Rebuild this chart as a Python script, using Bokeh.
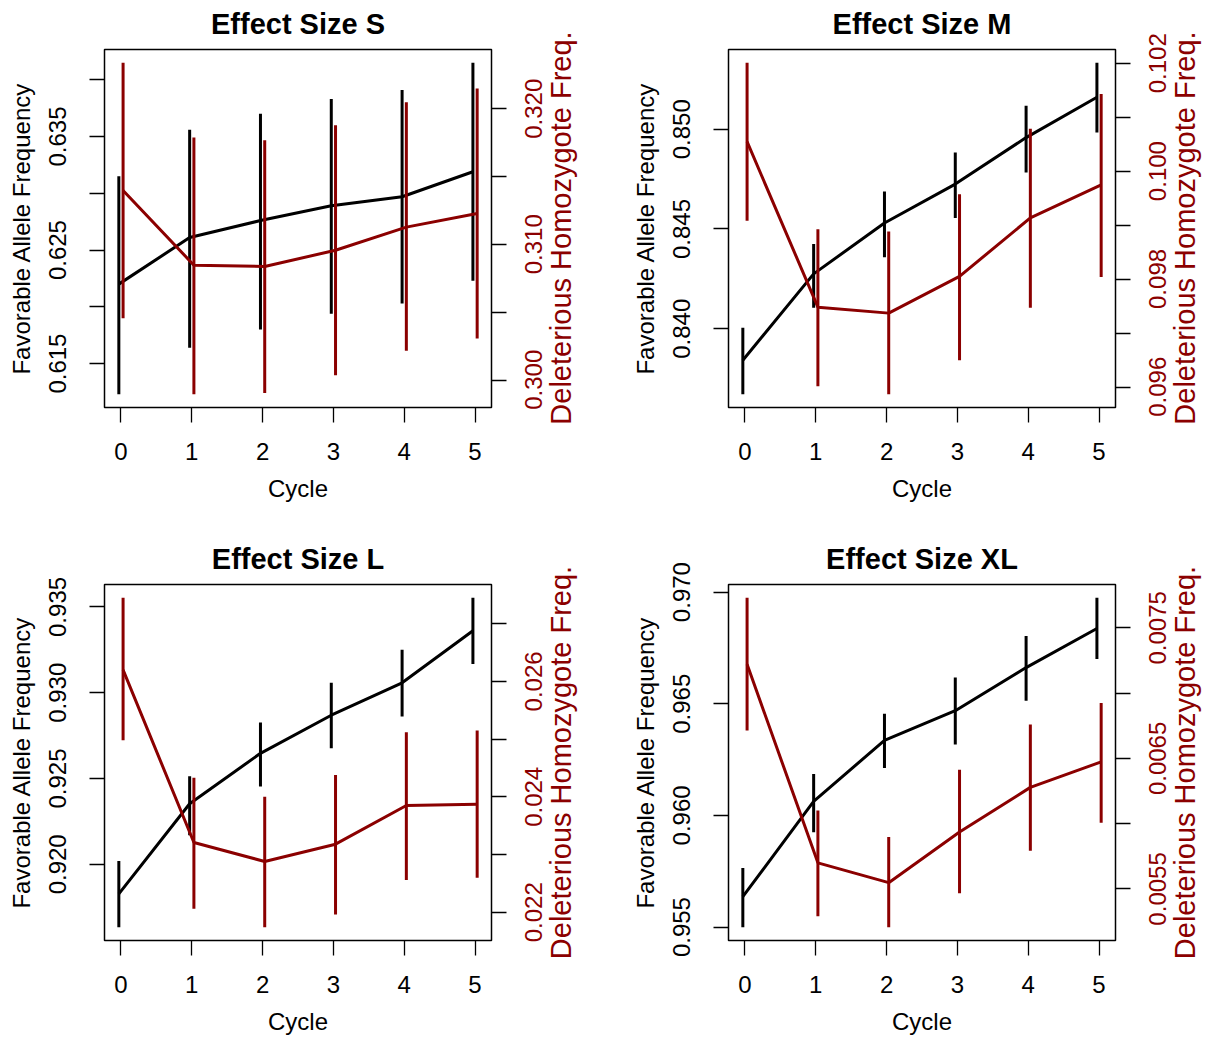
import math
from bokeh.plotting import figure
from bokeh.models import Range1d, LinearAxis, FixedTicker, Title
from bokeh.layouts import row, column
from bokeh.embed import file_html
from bokeh.resources import INLINE

FONT = "Liberation Sans"
RED = "#8B0000"

cycles = [0, 1, 2, 3, 4, 5]
x_labels = ["0", "1", "2", "3", "4", "5"]
BLACK_SHIFT = -0.03
RED_SHIFT = 0.03

# ---- Effect Size S ----
s_fav_mean = [0.6220, 0.6261, 0.6276, 0.6289, 0.6297, 0.6319]
s_fav_lo = [0.6123, 0.6164, 0.6180, 0.6194, 0.6203, 0.6223]
s_fav_hi = [0.6315, 0.6356, 0.6370, 0.6383, 0.6391, 0.6415]
s_del_mean = [0.3140, 0.3085, 0.3084, 0.3096, 0.3113, 0.3123]
s_del_lo = [0.3046, 0.2990, 0.2991, 0.3004, 0.3022, 0.3031]
s_del_hi = [0.3234, 0.3179, 0.3177, 0.3188, 0.3205, 0.3215]
s_left_ticks = [0.615, 0.620, 0.625, 0.630, 0.635, 0.640]
s_left_labels = ["0.615", "", "0.625", "", "0.635", ""]
s_right_ticks = [0.300, 0.305, 0.310, 0.315, 0.320]
s_right_labels = ["0.300", "", "0.310", "", "0.320"]

# ---- Effect Size M ----
m_fav_mean = [0.83842, 0.84275, 0.84530, 0.84725, 0.84958, 0.85160]
m_fav_lo = [0.83672, 0.84105, 0.84358, 0.84555, 0.84783, 0.84983]
m_fav_hi = [0.84005, 0.84425, 0.84688, 0.84883, 0.85117, 0.85333]
m_del_mean = [0.10055, 0.09749, 0.09738, 0.09806, 0.09914, 0.09975]
m_del_lo = [0.09909, 0.09603, 0.09588, 0.09651, 0.09748, 0.09805]
m_del_hi = [0.10201, 0.09893, 0.09889, 0.09958, 0.10079, 0.10143]
m_left_ticks = [0.840, 0.845, 0.850]
m_left_labels = ["0.840", "0.845", "0.850"]
m_right_ticks = [0.096, 0.097, 0.098, 0.099, 0.100, 0.101, 0.102]
m_right_labels = ["0.096", "", "0.098", "", "0.100", "", "0.102"]

# ---- Effect Size L ----
l_fav_mean = [0.91828, 0.92353, 0.92647, 0.92869, 0.93058, 0.93361]
l_fav_lo = [0.91633, 0.92170, 0.92454, 0.92676, 0.92861, 0.93168]
l_fav_hi = [0.92019, 0.92514, 0.92826, 0.93058, 0.93251, 0.93554]
l_del_mean = [0.02620, 0.02321, 0.02288, 0.02318, 0.02385, 0.02387]
l_del_lo = [0.02498, 0.02206, 0.02174, 0.02196, 0.02256, 0.02260]
l_del_hi = [0.02745, 0.02433, 0.02400, 0.02438, 0.02512, 0.02515]
l_left_ticks = [0.920, 0.925, 0.930, 0.935]
l_left_labels = ["0.920", "0.925", "0.930", "0.935"]
l_right_ticks = [0.022, 0.023, 0.024, 0.025, 0.026, 0.027]
l_right_labels = ["0.022", "", "0.024", "", "0.026", ""]

# ---- Effect Size XL ----
xl_fav_mean = [0.95636, 0.96063, 0.96336, 0.96469, 0.96662, 0.96837]
xl_fav_lo = [0.95499, 0.95925, 0.96212, 0.96318, 0.96514, 0.96701]
xl_fav_hi = [0.95765, 0.96185, 0.96455, 0.96618, 0.96803, 0.96975]
xl_del_mean = [0.007221, 0.005700, 0.005548, 0.005936, 0.006278, 0.006473]
xl_del_lo = [0.006714, 0.005290, 0.005206, 0.005467, 0.005792, 0.006007]
xl_del_hi = [0.007731, 0.006101, 0.005898, 0.006413, 0.006760, 0.006925]
xl_left_ticks = [0.955, 0.960, 0.965, 0.970]
xl_left_labels = ["0.955", "0.960", "0.965", "0.970"]
xl_right_ticks = [0.0055, 0.0060, 0.0065, 0.0070, 0.0075]
xl_right_labels = ["0.0055", "", "0.0065", "", "0.0075"]

FRAME_W = 387
MAIN_RIGHT = 31
RIGHT_LABEL = "Deleterious Homozygote Freq."


def pad(lo, hi, f=0.04):
    d = hi - lo
    return lo - f * d, hi + f * d


def style_axis(ax, ticks, labels, color="black"):
    ax.ticker = FixedTicker(ticks=ticks)
    ax.major_label_overrides = {t: lab for t, lab in zip(ticks, labels)}
    ax.axis_line_color = None
    ax.major_tick_out = 15
    ax.major_tick_in = 0
    ax.minor_tick_out = 0
    ax.minor_tick_in = 0
    ax.major_tick_line_width = 1.3
    ax.major_tick_line_color = "black"
    ax.major_label_text_font = FONT
    ax.major_label_text_font_size = "24px"
    ax.major_label_text_color = color
    ax.axis_label_text_font = FONT
    ax.axis_label_text_font_size = "24px"
    ax.axis_label_text_font_style = "normal"
    ax.axis_label_text_color = color


def make_panel(title, fm, flo, fhi, dm, dlo, dhi, lt, ll, rt, rl,
               mbl, strip_w, mbt, mbb, fh):
    xb = [c + BLACK_SHIFT for c in cycles]
    xr = [c + RED_SHIFT for c in cycles]
    x0, x1 = pad(min(xb + xr), max(xb + xr))
    y0, y1 = pad(min(flo), max(fhi))
    r0, r1 = pad(min(dlo), max(dhi))
    del_range = Range1d(r0, r1)
    p = figure(frame_width=FRAME_W, frame_height=fh,
               x_range=Range1d(x0, x1), y_range=Range1d(y0, y1),
               output_backend="svg", toolbar_location=None,
               min_border_left=mbl, min_border_right=MAIN_RIGHT,
               min_border_top=mbt, min_border_bottom=mbb,
               background_fill_color="white", border_fill_color="white")
    p.extra_y_ranges = {"del": del_range}
    p.xgrid.grid_line_color = None
    p.ygrid.grid_line_color = None
    p.outline_line_color = "black"
    p.outline_line_width = 1.5
    p.outline_line_alpha = 1.0

    p.title.text = title
    p.title.align = "center"
    p.title.vertical_align = "top"
    p.title.standoff = 15
    p.title.text_font = FONT
    p.title.text_font_size = "29px"
    p.title.text_font_style = "bold"
    p.title.text_color = "black"

    style_axis(p.xaxis[0], cycles, x_labels)
    p.xaxis[0].axis_label = "Cycle"
    p.xaxis[0].major_label_standoff = 20
    p.xaxis[0].axis_label_standoff = 12

    style_axis(p.yaxis[0], lt, ll)
    p.yaxis[0].major_label_orientation = "vertical"
    p.yaxis[0].axis_label = "Favorable Allele Frequency"
    p.yaxis[0].major_label_standoff = 23
    p.yaxis[0].axis_label_standoff = 12

    # red axis: tick marks on the box edge
    rax = LinearAxis(y_range_name="del")
    style_axis(rax, rt, ["" for _ in rt])
    rax.major_label_text_font_size = "0px"
    rax.major_label_standoff = 0
    p.add_layout(rax, "right")

    p.segment(x0=xb, y0=flo, x1=xb, y1=fhi, line_color="black", line_width=3)
    p.line(xb, fm, line_color="black", line_width=3)
    p.segment(x0=xr, y0=dlo, x1=xr, y1=dhi, line_color=RED, line_width=3,
              y_range_name="del")
    p.line(xr, dm, line_color=RED, line_width=3, y_range_name="del")

    # companion strip on the same red scale: its left-hand axis carries the
    # red tick labels and its left-hand title the red axis name, both
    # reading bottom-to-top as in the original
    s = figure(width=strip_w, height=mbt + fh + mbb,
               x_range=Range1d(0, 1), y_range=del_range,
               output_backend="svg", toolbar_location=None,
               x_axis_type=None, y_axis_type=None,
               min_border_left=0, min_border_right=0,
               min_border_top=mbt, min_border_bottom=mbb,
               background_fill_color="white", border_fill_color="white")
    s.outline_line_color = None
    s.xgrid.grid_line_color = None
    s.ygrid.grid_line_color = None
    s.add_layout(Title(text=RIGHT_LABEL, align="center", standoff=0,
                       text_font=FONT, text_font_size="29px",
                       text_font_style="normal", text_color=RED), "left")
    lab_ax = LinearAxis()
    style_axis(lab_ax, rt, rl, color=RED)
    lab_ax.major_tick_out = 0
    lab_ax.major_tick_line_color = None
    lab_ax.major_label_orientation = "vertical"
    lab_ax.major_label_standoff = 0
    s.add_layout(lab_ax, "left")
    return p, s


ps, ss = make_panel("Effect Size S", s_fav_mean, s_fav_lo, s_fav_hi,
                    s_del_mean, s_del_lo, s_del_hi,
                    s_left_ticks, s_left_labels, s_right_ticks, s_right_labels,
                    104, 83, 48, 127, 358)
pm, sm = make_panel("Effect Size M", m_fav_mean, m_fav_lo, m_fav_hi,
                    m_del_mean, m_del_lo, m_del_hi,
                    m_left_ticks, m_left_labels, m_right_ticks, m_right_labels,
                    123, 65, 48, 127, 358)
pl, sl = make_panel("Effect Size L", l_fav_mean, l_fav_lo, l_fav_hi,
                    l_del_mean, l_del_lo, l_del_hi,
                    l_left_ticks, l_left_labels, l_right_ticks, l_right_labels,
                    104, 83, 50, 101, 356)
pxl, sxl = make_panel("Effect Size XL", xl_fav_mean, xl_fav_lo, xl_fav_hi,
                      xl_del_mean, xl_del_lo, xl_del_hi,
                      xl_left_ticks, xl_left_labels, xl_right_ticks, xl_right_labels,
                      123, 65, 50, 101, 356)

layout = column(row(ps, ss, pm, sm), row(pl, sl, pxl, sxl))

open("out.html", "w").write(file_html(layout, INLINE))
